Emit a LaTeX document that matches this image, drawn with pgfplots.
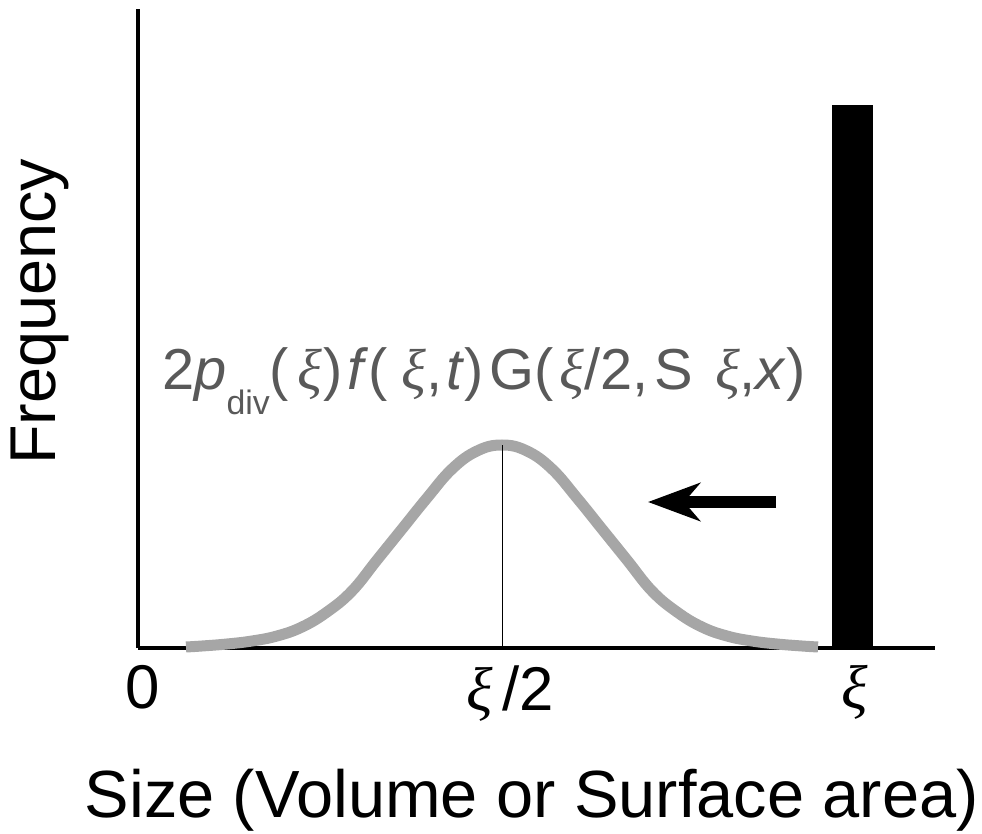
\documentclass[border=0pt]{standalone}
\usepackage{fontspec}
\setmainfont{Liberation Sans}
\newfontfamily\grk{Liberation Serif}
\newcommand{\XI}{{\grk\itshape ξ}}
\usepackage{pgfplots}
\pgfplotsset{compat=1.18}
\usetikzlibrary{arrows.meta}
\definecolor{curvegray}{HTML}{A6A6A6}
\definecolor{textgray}{HTML}{595959}
\begin{document}
\begin{tikzpicture}
\useasboundingbox (-138bp,-186bp) rectangle (844bp,648bp);
\begin{axis}[
  at={(0,0)}, anchor=south west,
  scale only axis, width=797bp, height=639bp,
  xmin=138, xmax=935, ymin=0, ymax=639,
  axis x line=bottom, axis y line=left,
  axis line style={-, line width=4bp, black},
  ytick=\empty,
  xtick={143,510,855},
  xticklabels={0,{\XI\kern10bp/2},\XI},
  major tick length=0pt,
  xticklabel style={font=\fontsize{62}{62}\selectfont, yshift=-14bp, anchor=north},
  clip=false,
  xlabel={Size (Volume or Surface area)},
  ylabel={Frequency},
  xlabel style={font=\fontsize{67}{67}\selectfont, at={(axis description cs:0.494,-0.238)}, anchor=center},
  ylabel style={font=\fontsize{65}{65}\selectfont, at={(axis description cs:-0.123,0.526)}, anchor=center, rotate=0},
]
% bar at xi
\addplot[fill=black, draw=none] coordinates {(832,0) (832,543) (873,543) (873,0)} -- cycle;
% daughter distribution
\addplot[curvegray, line width=11bp, smooth, tension=0.7] coordinates {
(186,1) (202,2) (227,4) (252,7) (277,12) (302,21) (327,36) (352,57) (377,88) (402,119) (427,150) (452,179) (477,197) (502,203)
(527,197) (552,179) (577,150) (602,119) (627,88) (652,57) (677,36) (702,21) (727,12) (752,7) (777,4) (802,2) (818,1)};
% centre line
\addplot[black, line width=1bp] coordinates {(502,0) (502,203)};
% arrow
\addplot[black, line width=12bp, -{Stealth[length=52bp, width=38bp, inset=16bp]}] coordinates {(776,146) (648,146)};
% formula label
\node[textgray, anchor=base, font=\fontsize{58}{58}\selectfont, inner sep=0pt] at (axis cs:484,258)
  {2\textit{p}\raisebox{-25bp}{\fontsize{34}{34}\selectfont div}(\kern8bp\XI\kern2bp)\kern4bp\textit{f}(\kern14bp\XI,\kern4bp\textit{t})\kern6bp G(\kern6bp\XI/2,\kern6bp S\kern22bp\XI,\textit{x})};
\end{axis}
\end{tikzpicture}
\end{document}
